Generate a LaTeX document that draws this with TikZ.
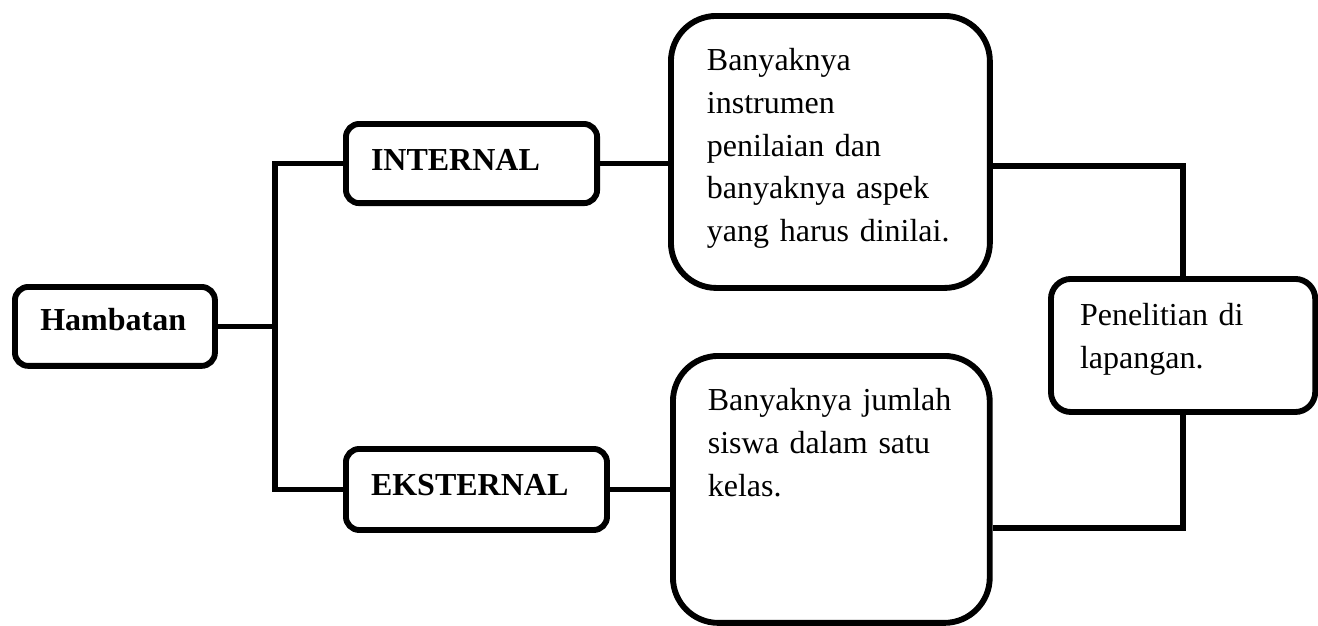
\documentclass[tikz,border=0pt]{standalone}
\usepackage{fontspec}
\setmainfont{Liberation Serif}
\tikzset{
	kotak/.style={draw, line width=2.2pt, inner ysep=0pt, align=left, anchor=north west, font=\fontsize{12pt}{16pt}\selectfont},
	tebal/.style={font=\fontsize{12pt}{16pt}\selectfont\bfseries},
	garis/.style={line width=2pt}
}

\begin{document}
\begin{tikzpicture}[x=0.375pt, y=-0.375pt]
		%%%%% START %%%%%
		\useasboundingbox (0,0) rectangle (1318,625);
		
		\node[kotak, tebal, rounded corners=5pt, inner xsep=9.5pt, text width=56pt, text height=16.5pt, text depth=13.1pt] (hambatan) at (12,284) {Hambatan};
		
		\node[kotak, tebal, rounded corners=5pt, inner xsep=9.4pt, text width=75.4pt, text height=17.3pt, text depth=12.4pt] (internal) at (343,121) {INTERNAL};
		\node[kotak, tebal, rounded corners=5pt, inner xsep=9.4pt, text width=79.1pt, text height=17.6pt, text depth=12.8pt] (eksternal) at (343,446) {EKSTERNAL};
		
		\node[kotak, rounded corners=17pt, inner xsep=13.5pt, text width=92.6pt, text height=20.6pt, text depth=81.4pt] (instrumen) at (668,13) {Banyaknya\\instrumen\\penilaian dan\\banyaknya aspek\\yang harus dinilai.};
		\node[kotak, rounded corners=17pt, inner xsep=13.1pt, text width=92.6pt, text height=20.6pt, text depth=79.5pt] (siswa) at (670,353) {Banyaknya jumlah\\siswa dalam satu\\kelas.};
		
		\node[kotak, rounded corners=7.5pt, inner xsep=10.9pt, text width=77.3pt, text height=17.6pt, text depth=32.3pt] (lapangan) at (1048,276) {Penelitian di\\lapangan.};
		
		% cabang kiri
		\coordinate (cabang) at (275,323);
		\draw[garis] (hambatan.east) -- (hambatan.east -| cabang);
		\draw[garis] (internal.west) -| (cabang) |- (eksternal.west);
		
		\draw[garis] (internal.east) -- (internal.east -| instrumen.west);
		\draw[garis] (eksternal.east) -- (eksternal.east -| siswa.west);
		
		% cabang kanan
		\coordinate (atas) at (1180,166);
		\coordinate (bawah) at (1180,528);
		\draw[garis] (atas -| instrumen.east) -| (lapangan.north);
		\draw[garis] (lapangan.south) |- (bawah -| siswa.east);
		
		%%%%% END %%%%%
\end{tikzpicture}
\end{document}
